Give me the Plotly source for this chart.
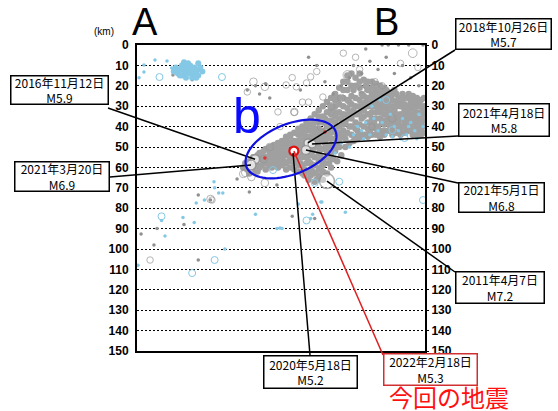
import math
import plotly.graph_objects as go

# ---------------- data (x: km along A-B, depth: km) ----------------
depth_ticks = list(range(0, 151, 10))

gray_dot_x = [52,53,54,55,56,57,58,59,60,61,62,60,58,55,63,64,65,66,67,68,69,70,71,72,73,74,75,76,77,78,79,80,81,82,83,84,85,86,87,88,89,90,91,92,93,94,95,96,97,98,99,100,101,102,103,104,105,106,107,108,109,110,111,112,113,114,115,116,117,118,119,120,121,122,123,124,125,126,127,128,129,130,131,132,133,134,135,136,137,138,139,140,
              66,68,70,72,74,75,76,78,79,80,81,82,83,84,85,86,87,88,89,90,91,92,93,94,95,96,97,98,99,100,101,102,103,104,105,106,107,108,109,110,111,112,113,114,115,116,117,118,119,120,121,122,123,124,125,126,127,128,129,130,132,133,135,136,138,139,140,
              62,64,66,69,71,73,75,77,79,81,83,85,87,89,91,93,95,97,99,101,103,105,107,109,111,113,115,117,119,121,123,125,127,129,131,133,135,137,139,
              82,84,86,87,89,90,91,92,93,94,95,96,97,98,99,100,102,104,106,108,110,112]
gray_dot_d = [60,58,61,57,59,55,58,56,60,54,57,53,62,63,55,58,53,56,52,55,58,51,54,57,50,53,56,49,55,51,47,53,49,46,55,50,45,52,47,43,50,46,42,48,44,40,46,42,38,44,40,36,42,38,34,40,36,32,38,34,30,36,32,28,38,34,30,26,36,32,28,38,34,30,26,40,36,32,28,38,34,30,40,36,32,28,38,34,30,42,36,32,
              60,50,57,53,48,60,52,56,62,58,44,61,42,57,64,40,59,66,38,55,62,36,52,58,34,50,30,48,26,45,22,46,18,28,44,22,26,42,18,24,44,20,22,42,18,38,22,40,20,24,42,22,36,24,44,22,40,26,44,24,42,26,44,26,28,44,40,
              52,55,53,51,49,47,45,47,44,46,40,42,38,41,35,37,32,35,33,30,31,29,30,27,29,26,28,30,33,28,32,30,34,30,34,38,31,36,30,
              64,66,62,67,64,60,66,58,63,55,60,56,52,57,50,54,50,48,47,46,45,44]

band_x = [57,57,59,59,59,61,61,63,63,63,65,65,65,67,67,67,69,69,69,69,71,71,71,71,73,73,73,73,73,75,75,75,75,
          77,77,77,77,77,79,79,79,79,79,81,81,81,81,81,81,83,83,83,83,83,83,85,85,85,85,85,85,87,87,87,87,87,87,
          89,89,89,89,89,89,89,91,91,91,91,91,91,93,93,93,93,93,93,95,95,95,95,95,95,97,97,97,97,97,97,
          99,99,99,99,99,101,101,101,101,101,103,103,103,103,103,105,105,105,105,105,107,107,107,107,107,
          109,109,109,109,109,111,111,111,111,113,113,113,113,113,115,115,115,115,115,115,117,117,117,117,117,117,
          119,119,119,119,119,119,121,121,121,121,121,121,123,123,123,123,123,125,125,125,125,125,127,127,127,127,127,
          129,129,129,129,129,131,131,131,131,131,133,133,133,133,133,135,135,135,135,135,135,137,137,137,137,137,137,
          139,139,139,139,140.5,140.5,140.5,140.5,140.5]
band_d = [55,60,54,59,62,56,59,51,58,61,50,55,59,49,54,58,48,53,56,60,47,51,56,59,45,49,54,58,61,44,48,52,57,
          43,50,53,58,61,41,49,52,55,59,40,42,51,55,59,63,38,45,48,52,58,62,36,39,48,54,58,61,34,41,44,50,55,63,
          32,35,44,47,53,57,61,30,38,45,51,56,59,28,33,40,46,50,55,26,30,37,43,49,53,24,27,33,41,46,50,
          21,29,36,43,47,18,26,34,39,45,15,22,27,36,43,14,20,25,33,40,16,20,34,41,45,
          14,21,33,39,43,17,25,35,40,18,30,34,41,45,21,24,33,36,40,44,19,25,28,33,41,44,
          23,25,30,36,42,45,21,25,31,37,39,44,23,28,34,38,42,24,27,33,38,42,24,30,36,38,43,
          26,28,36,40,42,26,29,32,38,43,24,30,34,36,42,25,29,34,36,40,42,26,28,33,38,40,44,
          27,33,38,41,26,30,34,37,43]

sparse_x = [100,104,106,110,114,118,122,126,130,134,138,96,92,88,84,80,120,123,128,133,140,112,
            49,68.5,55,27,17.6,30,23,9.8,2,8.3,30,76,87,36,54,58,60,63,65]
sparse_d = [20,16,10,14,8,12,6,14,10,16,20,24,18,10,6,22,0,0,0,0,0,2,
            65.7,68.6,72,17,14.7,73.5,88,90,92.6,98,105.4,84,85,76,22,20,24,19,26]

gray_circ_x = [135,101,107,88,85,78,103,109,116.5,129,137.5,77,84,91,57,62.6,54,73,76,83,81,69,77,
               62,53,52,56,62.6,36,6.4,36.7,120,95,110,125,70,65,90,100,115]
gray_circ_d = [4,4,6,13,15.6,20.5,14.7,12,18,9,11,33,28,25.5,18,20.5,23,19.6,16,18.6,28,32.8,32.8,
               56,62.7,63.2,64.7,67.6,75.5,105.4,76,20,30,22,36,40,50,40,26,40]
gray_circ_m = [3.5,2.5,2.5,2.5,2.5,2.5,3.5,2.5,2.5,2.5,2.5,2.5,2.5,2.5,3,3,2.5,2.5,2.5,2.5,2.5,2.5,3,
               3,3,3,3,3,3,2.5,2.5,2.5,3,2.5,3,2.5,3,3,3,2.5]

blue_blob_x = [18,19,20,21,22,22,23,24,24,25,26,26,27,27,28,28,29,30,30,31,25,23,21,29,32,20,26,24,28,22,30]
blue_blob_d = [13,11,14,12,10,15,13,11,16,13,10,14,12,16,11,14,13,12,15,11,9,8.5,15,16,13,12.5,12,13.5,12.5,12,9]

blue_dot_x = [3.4,8.8,14.7,17,3.4,1,
              108,110,112,114,116,118,120,122,124,126,128,130,132,134,136,138,140,115,119,125,129,133,137,104,100,97,111,106,
              90.5,79,90,102,86,85,70,68.5,71,58,43,0.5,12,22.5,28,13.7,37.7,38,40,42,29,33]
blue_dot_d = [9.8,7.4,7.8,11.3,13.2,16,
              40,42,38,44,36,42,38,44,34,40,42,36,44,38,42,34,40,30,27,45,46,40,46,50,48,53,46,44,
              77,78,77,82,83,85,89.7,90,90,83,100,108,86,84.5,87,93.6,67,70,72.5,72.5,77.5,76]

blue_circ_x = [122,125,131,99,83,140,87,38,27,12,66.6,41.6,11]
blue_circ_d = [27,41.7,45.6,67,86,76,67.6,105.4,111.8,84,61.3,15.7,15.7]

red_dot_x = [62.6, 92]
red_dot_d = [55.4, 42.6]

# labelled events
event_x = [57.8, 55.8, 83.7, 85.7, 82.7, 93.0, 76.4, 76.8]
event_d = [56.0, 58.8, 48.0, 48.5, 51.5, 66.7, 52.9, 52.0]
event_m = [5.9, 6.9, 5.7, 5.8, 6.8, 7.2, 5.2, 5.3]
event_label = ["2016年11月12日<br>M5.9", "2021年3月20日<br>M6.9", "2018年10月26日<br>M5.7",
               "2021年4月18日<br>M5.8", "2021年5月1日<br>M6.8", "2011年4月7日<br>M7.2",
               "2020年5月18日<br>M5.2", "2022年2月18日<br>M5.3"]

# ---------------- layout geometry ----------------
W, H = 558, 411
L, R, T, B = 137, 425, 45, 351
XMAX = 141


def px(x):
    return (x - L) / (R - L)


def py(y):
    return (B - y) / (B - T)


def msize(m):
    return 2.2 * m + 1.0


GRAY = "#a0a0a0"
BLUE = "#84c8e6"

fig = go.Figure()
fig.add_trace(go.Scatter(x=band_x + gray_dot_x, y=band_d + gray_dot_d, mode="markers",
                         marker=dict(size=6.5, color=GRAY, line=dict(width=0)), hoverinfo="skip"))
fig.add_trace(go.Scatter(x=sparse_x, y=sparse_d, mode="markers",
                         marker=dict(size=3.5, color="#909090", line=dict(width=0)), hoverinfo="skip"))
fig.add_trace(go.Scatter(x=gray_circ_x, y=gray_circ_d, mode="markers",
                         marker=dict(size=[msize(m) for m in gray_circ_m], color="rgba(0,0,0,0)",
                                     line=dict(width=1, color="#959595")), hoverinfo="skip"))
fig.add_trace(go.Scatter(x=blue_blob_x, y=blue_blob_d, mode="markers",
                         marker=dict(size=6, color=BLUE, line=dict(width=0)), hoverinfo="skip"))
fig.add_trace(go.Scatter(x=blue_dot_x, y=blue_dot_d, mode="markers",
                         marker=dict(size=3.5, color=BLUE, line=dict(width=0)), hoverinfo="skip"))
fig.add_trace(go.Scatter(x=blue_circ_x, y=blue_circ_d, mode="markers",
                         marker=dict(size=7, color="rgba(0,0,0,0)", line=dict(width=1, color=BLUE)),
                         hoverinfo="skip"))
fig.add_trace(go.Scatter(x=red_dot_x, y=red_dot_d, mode="markers",
                         marker=dict(size=3.5, color="#e03030"), hoverinfo="skip"))
# labelled events (white filled, gray outline); big M7.2 open
fig.add_trace(go.Scatter(x=event_x[:7], y=event_d[:7], mode="markers",
                         marker=dict(size=[9, 10, 8, 8, 9, 15, 7],
                                     color=["white"] * 5 + ["rgba(255,255,255,0.6)", "white"],
                                     line=dict(width=1.5, color="#909090")), hoverinfo="skip"))

# leader lines (box edge pixel -> event)
box_anchor = [(108, 108), (110, 177), (455, 50), (458, 136), (458, 183), (455, 272), (310, 355), (383, 355)]
for i, (bx, by) in enumerate(box_anchor):
    col = "#e02020" if i == 7 else "black"
    fig.add_shape(type="line", xref="paper", yref="paper",
                  x0=px(bx), y0=py(by), x1=event_x[i] / XMAX, y1=1 - event_d[i] / 150,
                  line=dict(color=col, width=1.5), layer="above")

# current event red circle
fig.add_trace(go.Scatter(x=[event_x[7]], y=[event_d[7]], mode="markers",
                         marker=dict(size=9, color="white", line=dict(width=2.2, color="#e01010")),
                         hoverinfo="skip"))

# blue ellipse b
cx, cy, a, b, th = 291, 149, 48, 25, math.radians(22)
pts = []
for k in range(73):
    t = 2 * math.pi * k / 72
    ex = cx + a * math.cos(t) * math.cos(th) + b * math.sin(t) * math.sin(th)
    ey = cy - a * math.cos(t) * math.sin(th) + b * math.sin(t) * math.cos(th)
    pts.append((px(ex), py(ey)))
path = "M " + " L ".join(f"{x:.5f},{y:.5f}" for x, y in pts) + " Z"
fig.add_shape(type="path", xref="paper", yref="paper", path=path,
              line=dict(color="#1010e0", width=2.2), layer="above")

# label boxes: center px, width, height
boxes = [(59.5, 90, 99, 30), (62, 176.5, 96, 31), (503.5, 34, 97, 32), (504, 120, 92, 34),
         (501.5, 197.5, 87, 31), (500, 287, 90, 33), (310.5, 372, 95, 34), (430.5, 369, 95, 33)]
for i, (bx, by, bw, bh) in enumerate(boxes):
    fig.add_annotation(xref="paper", yref="paper", x=px(bx), y=py(by), xanchor="center", yanchor="middle",
                       text=event_label[i], showarrow=False, align="center",
                       font=dict(family="Noto Sans CJK JP", size=12, color="black"),
                       bgcolor="white", bordercolor="#d03030" if i == 7 else "black",
                       borderwidth=1.5, borderpad=0, width=bw - 3, height=bh - 3)


def label(xp, yp, text, size, color, family="Liberation Sans"):
    fig.add_annotation(xref="paper", yref="paper", x=px(xp), y=py(yp), text=text, showarrow=False,
                       xanchor="center", yanchor="middle",
                       font=dict(family=family, size=size, color=color))


label(449, 396.5, "今回の地震", 24, "#ff1010", "Noto Sans CJK JP")
label(247, 116, "b", 50, "#0a0aff")
label(144.5, 22, "A", 38, "black")
label(386.5, 22, "B", 38, "black")
label(104, 32, "(km)", 10, "black")

# dummy trace for right axis
fig.add_trace(go.Scatter(x=[None], y=[None], yaxis="y2", showlegend=False, hoverinfo="skip"))

tickfont = dict(family="Liberation Sans", size=12, color="black", weight="bold")
fig.update_layout(
    width=W, height=H, margin=dict(l=L, r=W - R, t=T, b=H - B, autoexpand=False),
    paper_bgcolor="white", plot_bgcolor="white", showlegend=False,
    xaxis=dict(range=[0, XMAX], showticklabels=False, ticks="", showgrid=False, zeroline=False,
               showline=True, linecolor="black", linewidth=2, mirror=True),
    yaxis=dict(range=[150, 0], tickvals=depth_ticks, ticktext=[str(v) for v in depth_ticks],
               showgrid=True, gridcolor="black", gridwidth=1, griddash="2px,2px", zeroline=False,
               showline=True, linecolor="black", linewidth=2, mirror=True, ticks="", ticklabelstandoff=4,
               tickfont=tickfont),
    yaxis2=dict(range=[150, 0], tickvals=depth_ticks, ticktext=[str(v) for v in depth_ticks],
                overlaying="y", side="right", showgrid=False, zeroline=False, showline=False,
                ticks="outside", ticklen=3, tickcolor="black", tickfont=tickfont),
)

fig.write_html("out.html")
